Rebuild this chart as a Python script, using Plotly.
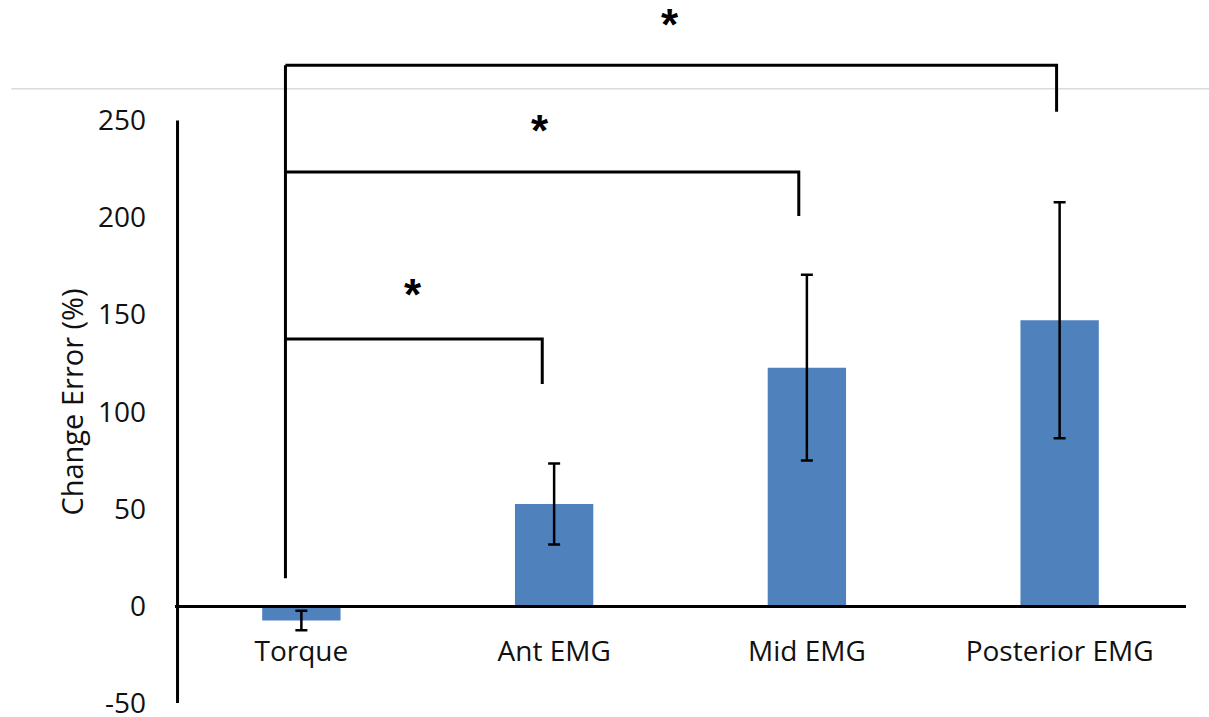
import plotly.graph_objects as go

categories = ["Torque", "Ant EMG", "Mid EMG", "Posterior EMG"]
means = [-7.5, 52.5, 122.7, 147.1]
errors = [5.0, 20.9, 47.8, 60.8]
ytick_vals = [-50, 0, 50, 100, 150, 200, 250]
ytick_text = ["-50", "0", "50", "100", "150", "200", "250"]

# significance brackets (drawn from Torque to each comparison)
bracket_left = -0.063
bracket_bottom = 14.3
bracket_levels = [137.5, 223.5, 278.5]
bracket_right = [0.953, 1.968, 2.988]
bracket_drop = [114.3, 200.8, 254.5]
star_x = [0.443, 0.945, 1.458]
star_y = [160.5, 245.0, 299.5]

FONT = "Open Sans"
BLUE = "#4F81BD"
TXT = "#111111"

fig = go.Figure()
fig.add_trace(go.Bar(
    x=list(range(len(categories))), y=means, width=0.31,
    marker=dict(color=BLUE, line=dict(width=0)),
    error_y=dict(type="data", array=errors, visible=True, color="black",
                 thickness=2.5, width=6),
    showlegend=False,
))

shapes = []
line_style = dict(color="black", width=3)
# y axis line
shapes.append(dict(type="line", xref="paper", yref="y", x0=0.0025, x1=0.0025,
                   y0=-50, y1=250, line=dict(color="black", width=3)))
# light gray line near top
shapes.append(dict(type="line", xref="paper", yref="y", x0=-0.162, x1=1.03,
                   y0=266.3, y1=266.3, line=dict(color="#c8c8c8", width=1)))
# vertical stem of the brackets
shapes.append(dict(type="line", xref="x", yref="y", x0=bracket_left, x1=bracket_left,
                   y0=bracket_bottom, y1=max(bracket_levels), line=line_style))
for lvl, xr, drop in zip(bracket_levels, bracket_right, bracket_drop):
    shapes.append(dict(type="path", xref="x", yref="y",
                       path=f"M {bracket_left},{lvl} L {xr},{lvl} L {xr},{drop}",
                       line=line_style))

annotations = []
for sx, sy in zip(star_x, star_y):
    annotations.append(dict(x=sx, y=sy, xref="x", yref="y", text="<b>*</b>",
                            showarrow=False, font=dict(family="Arial", size=44, color="black"),
                            xanchor="center", yanchor="middle"))
# y axis title
annotations.append(dict(x=-0.1033, y=105, xref="paper", yref="y", text="Change Error (%)",
                        textangle=-90, showarrow=False, xanchor="center", yanchor="middle",
                        font=dict(family=FONT, size=29, color=TXT)))

fig.update_layout(
    width=1209, height=717,
    margin=dict(l=174.5, r=22.5, t=4.3, b=14.3),
    plot_bgcolor="white", paper_bgcolor="white",
    shapes=shapes, annotations=annotations,
    font=dict(family=FONT, size=27, color=TXT),
    xaxis=dict(
        tickmode="array", tickvals=list(range(len(categories))), ticktext=categories,
        range=[-0.5, 3.5], anchor="free", position=50/360, automargin=False,
        showline=True, linecolor="black", linewidth=3, showgrid=False,
        ticks="", ticklabelstandoff=19, zeroline=False,
        tickfont=dict(family=FONT, size=28, color=TXT),
    ),
    yaxis=dict(
        range=[-50, 310], tickmode="array", tickvals=ytick_vals, ticktext=ytick_text,
        showline=False, showgrid=False, zeroline=False, ticks="", automargin=False,
        ticklabelstandoff=28, ticklabeloverflow="allow",
        tickfont=dict(family=FONT, size=28, color=TXT),
    ),
)

fig.write_html("out.html")
